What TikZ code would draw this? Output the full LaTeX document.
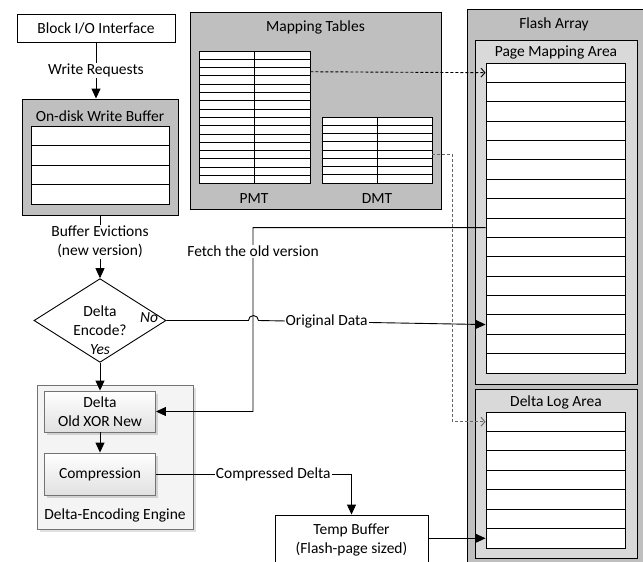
\documentclass[tikz,border=0pt]{standalone}
\usepackage{fontspec}
\setmainfont{Carlito}
\usetikzlibrary{arrows.meta,positioning,shapes.geometric,shadows}
\definecolor{outergray}{HTML}{BFBFBF}
\definecolor{innergray}{HTML}{D9D9D9}
\definecolor{enginegray}{HTML}{F4F4F4}

\begin{document}
\begin{tikzpicture}[x=1pt,y=-1pt,line width=0.9pt,
  every node/.style={font=\fontsize{15.5}{19.5}\selectfont},
  box/.style={draw,fill=white,align=center},
  area/.style={draw,fill=outergray,inner sep=0pt},
  subarea/.style={draw,fill=innergray,inner sep=0pt},
  cell/.style={draw,fill=white,inner sep=0pt},
  block/.style={draw=black!55,top color=white,bottom color=black!12,align=center,
    drop shadow={shadow xshift=2.5pt,shadow yshift=-2.5pt,fill=black!30,opacity=0.5}},
  lbl/.style={fill=white,inner sep=1pt,align=center},
  arr/.style={-{Triangle[length=10pt,width=9pt]}},
  ptr/.style={dashed,dash pattern=on 3pt off 2pt,-{Straight Barb[length=4pt,width=9pt]}},
]
  \useasboundingbox (0,0) rectangle (643,562);

  % host side
  \node[box,minimum width=158pt,minimum height=28pt] (io) at (96,28) {Block I/O Interface};
  \node[area,minimum width=156pt,minimum height=116pt] (wbuf) at (100,157) {};
  \node (wbuftitle) at (100,116) {On-disk Write Buffer};
  \foreach \i in {1,...,4}
    \node[cell,minimum width=138pt,minimum height=19.5pt] (wb\i) at (100,{116.25+19.5*\i}) {};

  % mapping tables
  \node[area,minimum width=251pt,minimum height=197pt] (maptab) at (315.5,110.5) {};
  \node (maptitle) at (315.5,27) {Mapping Tables};
  \foreach \i in {1,...,16} {
    \node[cell,minimum width=55pt,minimum height=8.3pt] (pmtL\i) at (226.5,{46.85+8.3*\i}) {};
    \node[cell,minimum width=56pt,minimum height=8.3pt] (pmtR\i) at (282,{46.85+8.3*\i}) {};
  }
  \foreach \i in {1,...,8} {
    \node[cell,minimum width=55pt,minimum height=8.25pt] (dmtL\i) at (349.5,{112.875+8.25*\i}) {};
    \node[cell,minimum width=55pt,minimum height=8.25pt] (dmtR\i) at (404.5,{112.875+8.25*\i}) {};
  }
  \node (pmtlabel) at (254,199) {PMT};
  \node (dmtlabel) at (377,199) {DMT};

  % flash array
  \node[area,minimum width=185pt,minimum height=565pt,anchor=north west] (flash) at (467,9) {};
  \node (flashtitle) at (554,24) {Flash Array};
  \node[subarea,minimum width=162pt,minimum height=344pt] (pma) at (556,212) {};
  \node (pmatitle) at (556,52) {Page Mapping Area};
  \foreach \i in {1,...,16}
    \node[cell,minimum width=139pt,minimum height=19.375pt] (pm\i) at (555.5,{53.3125+19.375*\i}) {};
  \node[subarea,minimum width=162pt,minimum height=169pt] (dla) at (556,473.5) {};
  \node (dlatitle) at (556,402) {Delta Log Area};
  \foreach \i in {1,...,7}
    \node[cell,minimum width=139pt,minimum height=19.43pt] (dl\i) at (555.5,{402.285+19.43*\i}) {};

  % decision and encoding engine
  \node[diamond,draw,fill=white,minimum width=132pt,minimum height=83pt,inner sep=0pt,align=center] (dec) at (100,320.5) {Delta\\Encode?};
  \node[font=\fontsize{15.5}{19.5}\selectfont\itshape] (no) at (149,318) {No};
  \node[font=\fontsize{15.5}{19.5}\selectfont\itshape] (yes) at (100,350) {Yes};
  \node[draw=black!55,fill=enginegray,minimum width=156pt,minimum height=144pt,
    drop shadow={shadow xshift=2.5pt,shadow yshift=-2.5pt,fill=black!30,opacity=0.4}] (engine) at (115,457) {};
  \node (enginetitle) at (115,515) {Delta-Encoding Engine};
  \node[block,minimum width=111pt,minimum height=41pt] (delta) at (100,411.5) {Delta\\Old XOR New};
  \node[block,minimum width=111pt,minimum height=42pt] (comp) at (100,474) {Compression};
  \node[box,minimum width=153pt,minimum height=50pt] (temp) at (351.5,540) {Temp Buffer\\(Flash-page sized)};

  % data flow
  \draw[arr] (io.south) -- node[lbl]{Write Requests} (io.south |- wbuf.north);
  \draw[arr] (wbuf.south) -- node[lbl,pos=0.42]{Buffer Evictions\\(new version)} (dec.north);
  \draw[arr] (dec.south) -- (delta.north);
  \draw[arr] (delta.south) -- (comp.north);
  \coordinate (fetch) at (253,227.69);
  \draw[arr] (pm9.west) -- (fetch) |- node[lbl,pos=0.065]{Fetch the old version} (delta.east);
  \draw[arr] (dec.east) -- ++(82,0) arc[start angle=180,end angle=0,radius=5pt]
    -- node[lbl,pos=0.3]{Original Data} (pm14.west);
  \draw[arr] (comp.east) -| node[lbl,pos=0.3]{Compressed Delta} (temp.north);
  \draw[arr] (temp.east |- dl7.west) -- (dl7.west);

  % table pointers
  \draw[ptr] (pmtR3.east) -- (pm1.west);
  \draw[ptr,black!60] (dmtR5.east) -- ++(20,0) |- (dl1.west);
\end{tikzpicture}
\end{document}
